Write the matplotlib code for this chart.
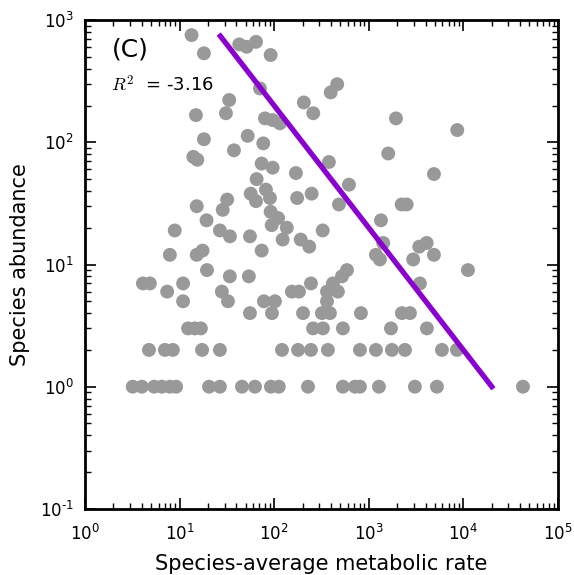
import matplotlib
matplotlib.use("Agg")
import matplotlib.pyplot as plt
from matplotlib.ticker import FuncFormatter
import math

plt.rcParams['axes.unicode_minus'] = False

# species-average metabolic rate and abundance
rate = [13.4, 18.1, 42.8, 51.2, 64.3, 91.8, 70.8, 33.5, 14.9, 30.9,
        206, 259, 80, 96.4, 115, 18.1, 52.5, 76.7, 37.6, 14.0,
        15.4, 73.8, 96.4, 170, 65.3, 56.5, 81.9, 90.3, 64.3, 31.9,
        28.6, 175, 249, 15.2, 91.8, 110, 94.2, 136, 19.3, 26.7,
        34.1, 55.5, 123, 191, 235, 8.9, 7.9, 15.2, 17.5, 73.8,
        326, 464, 396, 1940, 8630, 1607, 379, 4890, 618, 484,
        2228, 2516, 1346, 1422, 1191, 1312, 4093, 3420, 2951, 4890]
abund = [754, 535, 633, 605, 664, 518, 276, 222, 167, 173,
         212, 173, 157, 152, 143, 106, 113, 98, 86, 76,
         72, 67, 62, 56, 50, 38, 41, 35, 33, 34,
         28, 35, 38, 30, 27, 24, 21, 20, 23, 19,
         17, 17, 16, 16, 14, 19, 12, 12, 13, 13,
         19, 299, 256, 157, 126, 81, 69, 55, 45, 31,
         31, 31, 23, 15, 12, 11, 15, 14, 11, 12]

# low abundance rows (integer counts)
low_rows = {
    9: [19.5, 589, 11190],
    8: [34, 54, 521],
    7: [4.1, 4.86, 10.9, 245, 418, 3475],
    6: [7.4, 28, 154, 183, 362, 472],
    5: [10.9, 32.5, 78, 102, 362],
    4: [55.5, 94.8, 202, 320, 389, 827, 2240, 2727],
    3: [12.3, 14.5, 16.8, 258, 328, 533, 1718, 4120],
    2: [4.75, 7.0, 8.5, 17.3, 26.7, 121, 179, 245, 370, 807, 1191, 1758,
        2415, 5940, 8560],
    1: [3.2, 4.0, 5.4, 6.5, 7.9, 9.2, 20.5, 26.7, 45.7, 62.7, 92.5, 112,
        228, 533, 715, 807, 1282, 3076, 5260, 42700],
}
for n, xs in low_rows.items():
    rate += xs
    abund += [n] * len(xs)

# fitted line
line_x = [27, 20000]
line_y = [740, 1]
r2 = -3.16


def pow_label(v, pos):
    e = int(round(math.log10(v)))
    if e < 0:
        return r'$\mathdefault{10^{\text{-}%d}}$' % (-e)
    return r'$\mathdefault{10^{%d}}$' % e


fig = plt.figure(figsize=(5.74, 5.75), dpi=100)
ax = fig.add_axes([0.148, 0.115, 0.824, 0.85])

ax.scatter(rate, abund, s=100, color='#999999', edgecolors='none', zorder=2)
ax.plot(line_x, line_y, color='#8A00CF', lw=3.8, zorder=3)

ax.set_xscale('log')
ax.set_yscale('log')
ax.set_xlim(1, 1e5)
ax.set_ylim(0.1, 1e3)
ax.xaxis.set_major_formatter(FuncFormatter(pow_label))
ax.yaxis.set_major_formatter(FuncFormatter(pow_label))

for s in ax.spines.values():
    s.set_linewidth(2)
ax.tick_params(which='both', direction='in', top=True, right=True, labelsize=12)
ax.tick_params(which='major', length=8, width=1.2, pad=8)
ax.tick_params(axis='x', which='major', pad=11)
ax.tick_params(which='minor', length=4, width=1)

ax.set_xlabel('Species-average metabolic rate', fontsize=15, labelpad=7)
ax.set_ylabel('Species abundance', fontsize=15, labelpad=7)

ax.text(0.057, 0.939, '(C)', transform=ax.transAxes, fontsize=18, va='center')
ax.text(0.055, 0.867, '$R^2$  = %.2f' % r2, transform=ax.transAxes,
        fontsize=13, va='center', math_fontfamily='cm')

fig.savefig('out.png', dpi=100)
